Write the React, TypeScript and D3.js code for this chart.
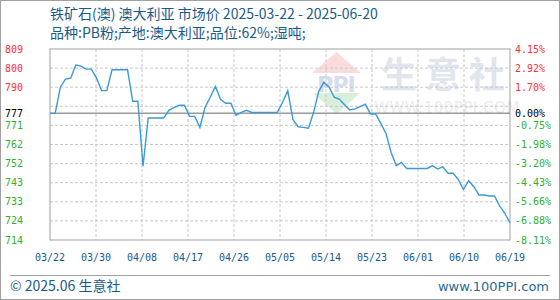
import React from "react";
import * as d3 from "d3";

// ---- data ----
const titleLine1 = "铁矿石(澳) 澳大利亚 市场价 2025-03-22 - 2025-06-20";
const titleLine2 = "品种:PB粉;产地:澳大利亚;品位:62%;湿吨;";
const footerLeft = "© 2025.06 生意社";
const footerRight = "www.100PPI.com";

// daily prices 2025-03-22 .. 2025-06-19
const prices = [
  777, 777, 790, 794, 794.5, 801, 800.5, 799, 799, 794.5,
  788.3, 788.3, 798.7, 798.7, 798.7, 798.7, 783, 783, 750.7, 774.7,
  774.7, 774.7, 774.7, 778.5, 779.8, 781, 781, 775.5, 775.5, 770,
  780, 785, 790.4, 784, 782, 782, 776, 777.5, 778.5, 777.5,
  777.5, 777.5, 777.5, 777.5, 777.5, 782.5, 788.3, 774, 770.3, 770,
  769.6, 777.5, 788, 792.5, 790, 785, 784, 781.3, 778.7, 779.2,
  780.3, 781.6, 776.7, 776.7, 772, 767, 757.5, 751, 752.6, 749.6,
  749.6, 749.6, 749.6, 749.6, 751, 749.3, 750.4, 747.2, 747.2, 744,
  739.2, 743.5, 740.5, 736.4, 736.4, 735.9, 735.9, 731, 727.3, 722.5,
];

const baseValue = 777;
const yMax = 809;
const yMin = 714;
const gridValues = [809, 799.5, 790, 780.5, 771, 761.5, 752, 742.5, 733, 723.5, 714];
const leftLabels = ["809", "800", "790", "", "771", "762", "752", "743", "733", "724", "714"];
const rightLabels = ["4.15%", "2.92%", "1.70%", "", "-0.75%", "-1.98%", "-3.20%", "-4.43%", "-5.66%", "-6.88%", "-8.11%"];
const baseLeftLabel = "777";
const baseRightLabel = "0.00%";
const xLabels = ["03/22", "03/30", "04/08", "04/17", "04/26", "05/05", "05/14", "05/23", "06/01", "06/10", "06/19"];

const W = 560;
const H = 300;
const L = 50, R = 510, T = 49, B = 240;

const RED = "#ff3030";
const GREEN = "#2fae2f";
const BLUE_TEXT = "#1a5a8a";
const MONO = "'DejaVu Sans Mono', 'Liberation Mono', monospace";
const CJK = "'Noto Sans CJK SC', 'Noto Sans', sans-serif";

export default function App() {
  const x = d3.scaleLinear().domain([0, prices.length - 1]).range([L, R]);
  const xl = d3.scaleLinear().domain([0, xLabels.length - 1]).range([L, R]);
  const y = d3.scaleLinear().domain([yMin, yMax]).range([B, T]);
  const line = d3
    .line<number>()
    .x((_, i) => x(i))
    .y((d) => y(d));

  const colorFor = (v: number) => (v > baseValue ? RED : v < baseValue ? GREEN : "#000");

  return (
    <svg
      width={W}
      height={H}
      style={{ position: "absolute", left: 0, top: 0, background: "#fff" }}
      xmlns="http://www.w3.org/2000/svg"
    >
      <rect x={0.5} y={0.5} width={W - 1} height={H - 1} fill="#fff" stroke="#a0a0a0" />

      {/* title */}
      <text x={50} y={19} fontFamily={CJK} fontSize={14} fill={BLUE_TEXT}>
        {titleLine1}
      </text>
      <text x={50} y={38} fontFamily={CJK} fontSize={14} fill={BLUE_TEXT}>
        {titleLine2}
      </text>

      {/* watermark */}
      <g opacity={1}>
        <path d={`M312,73 L336.5,52 L361,73 Z`} fill="#fbdcdc" />
        <text x={336} y={92} textAnchor="middle" fontFamily="'DejaVu Sans', sans-serif" fontWeight="bold" fontSize={22} fill="#d5dcea" letterSpacing={-1}>
          PPI
        </text>
        <path d={`M313,93 L360,93 L336.5,114 Z`} fill="#d8efdc" />
        <text x={447} y={88} textAnchor="middle" fontFamily={CJK} fontWeight="bold" fontSize={36} fill="#e0e5ee" letterSpacing={8}>
          生意社
        </text>
        <text x={447} y={113} textAnchor="middle" fontFamily="'DejaVu Sans', sans-serif" fontSize={15} fill="#ebebeb" letterSpacing={0.5}>
          WWW.100PPI.COM
        </text>
      </g>

      {/* grid */}
      {gridValues.map((v, i) =>
        i === 0 || i === gridValues.length - 1 ? null : (
          <line key={"h" + i} x1={L} x2={R} y1={y(v)} y2={y(v)} stroke="#c8c8c8" strokeDasharray="3,2" />
        )
      )}
      {xLabels.map((_, i) =>
        i === 0 || i === xLabels.length - 1 ? null : (
          <line key={"v" + i} x1={xl(i)} x2={xl(i)} y1={T} y2={B} stroke="#c8c8c8" strokeDasharray="3,2" />
        )
      )}

      {/* base line */}
      <line x1={L} x2={R} y1={y(baseValue)} y2={y(baseValue)} stroke="#9a9a9a" strokeWidth={1.5} />

      {/* plot frame */}
      <rect x={L} y={T} width={R - L} height={B - T} fill="none" stroke="#a0a0a0" />

      {/* data line */}
      <path d={line(prices) || ""} fill="none" stroke="#3a9ad9" strokeWidth={1.4} />

      {/* left labels */}
      {gridValues.map((v, i) =>
        leftLabels[i] ? (
          <text key={"ll" + i} x={5} y={y(v)} dy="0.35em" fontFamily={MONO} fontSize={10} fill={colorFor(v)}>
            {leftLabels[i]}
          </text>
        ) : null
      )}
      <text x={5} y={y(baseValue)} dy="0.35em" fontFamily={MONO} fontSize={10} fill="#000">
        {baseLeftLabel}
      </text>

      {/* right labels */}
      {gridValues.map((v, i) =>
        rightLabels[i] ? (
          <text key={"rl" + i} x={515} y={y(v)} dy="0.35em" fontFamily={MONO} fontSize={10} fill={colorFor(v)}>
            {rightLabels[i]}
          </text>
        ) : null
      )}
      <text x={515} y={y(baseValue)} dy="0.35em" fontFamily={MONO} fontSize={10} fill="#000">
        {baseRightLabel}
      </text>

      {/* x labels */}
      {xLabels.map((t, i) => (
        <text key={"x" + i} x={xl(i)} y={261} textAnchor="middle" fontFamily={MONO} fontSize={10} fill={BLUE_TEXT}>
          {t}
        </text>
      ))}

      {/* footer */}
      <line x1={10} x2={550} y1={275.5} y2={275.5} stroke="#a0a0a0" />
      <text x={10} y={291} fontFamily={CJK} fontSize={14} fill={BLUE_TEXT}>
        {footerLeft}
      </text>
      <text x={549} y={291} textAnchor="end" fontFamily="'DejaVu Sans', sans-serif" fontSize={13} fill="#2a6a9a">
        {footerRight}
      </text>
    </svg>
  );
}
